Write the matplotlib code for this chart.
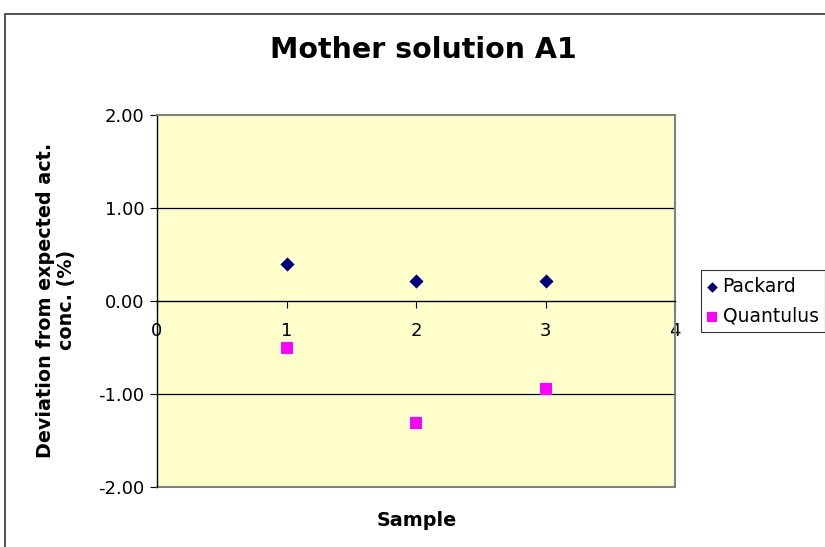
import matplotlib
matplotlib.use("Agg")
import matplotlib.pyplot as plt
from matplotlib.patches import Rectangle

# Data
samples = [1, 2, 3]
packard = [0.40, 0.22, 0.22]
quantulus = [-0.50, -1.31, -0.95]
x_ticks = [0, 1, 2, 3, 4]
y_ticks = [-2.0, -1.0, 0.0, 1.0, 2.0]

plt.rcParams['font.family'] = ['Verdana', 'DejaVu Sans']

fig = plt.figure(figsize=(8.25, 5.47), dpi=100)
W, H = 825, 547

# Outer chart border
fig.patches.append(Rectangle((5 / W, -0.1), 1.1, 1 - 14 / H + 0.1, transform=fig.transFigure,
                             fill=False, edgecolor='#333333', linewidth=1.2))

ax = fig.add_axes([157 / W, 1 - 487 / H, (675 - 157) / W, (487 - 115) / H])
ax.set_facecolor('#FFFFCC')

ax.set_xlim(0, 4)
ax.set_ylim(-2, 2)

# Gridlines
for yv in [-1.0, 1.0]:
    ax.axhline(yv, color='black', linewidth=0.9, zorder=1)

ax.scatter(samples, packard, marker='D', s=52, color='#000080', label='Packard', zorder=3, linewidths=0)
ax.scatter(samples, quantulus, marker='s', s=80, color='#FF00FF', label='Quantulus', zorder=3, linewidths=0)

# Spines
ax.spines['left'].set_color('black')
ax.spines['left'].set_linewidth(1.0)
ax.spines['bottom'].set_position(('data', 0))
ax.spines['bottom'].set_color('black')
ax.spines['bottom'].set_linewidth(1.0)
ax.spines['top'].set_color('#808080')
ax.spines['top'].set_linewidth(1.5)
ax.spines['right'].set_color('#808080')
ax.spines['right'].set_linewidth(1.5)
# bottom border of plot area
ax.plot([0, 4], [-2, -2], color='#808080', linewidth=1.5, clip_on=False, zorder=2)

ax.set_xticks(x_ticks)
ax.set_xticklabels([str(v) for v in x_ticks])
ax.set_yticks(y_ticks)
ax.set_yticklabels([f"{v:.2f}" for v in y_ticks])
ax.tick_params(axis='x', direction='out', length=5, width=0.8, pad=10, labelsize=13)
ax.tick_params(axis='y', direction='out', length=5, width=0.8, pad=4, labelsize=13)

fig.text(423 / W, 1 - 50 / H, 'Mother solution A1', fontsize=20.5, fontweight='bold',
         ha='center', va='center')

fig.text(417 / W, 1 - 521 / H, 'Sample', fontsize=13.8, fontweight='bold', ha='center', va='center')
fig.text(56 / W, 1 - 300 / H, 'Deviation from expected act.\nconc. (%)', fontsize=13.8,
         fontweight='bold', ha='center', va='center', rotation=90, linespacing=1.15)

leg = fig.legend(loc='upper left', bbox_to_anchor=(701 / W, 1 - 270 / H), frameon=True,
                 fancybox=False, edgecolor='black', fontsize=13.5, handlelength=0.5,
                 handletextpad=0.3, borderpad=0.35, labelspacing=0.6, borderaxespad=0,
                 markerscale=0.75)
leg.get_frame().set_linewidth(0.8)

fig.savefig('out.png', dpi=100)
